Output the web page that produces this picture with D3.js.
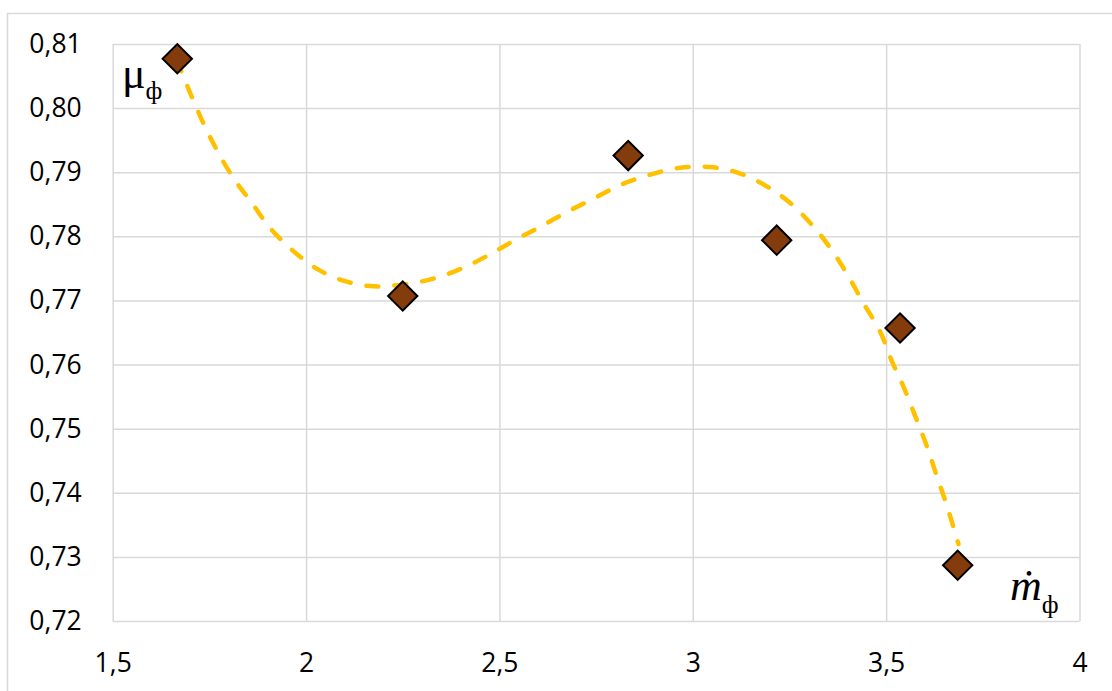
<!DOCTYPE html>
<html>
<head>
<meta charset="utf-8">
<script src="https://cdn.jsdelivr.net/npm/d3@7"></script>
<style>
  body { margin: 0; background: #fff; }
  .tick text { font-family: "Open Sans", sans-serif; font-size: 26.5px; fill: #000; }
  .grid line { stroke: #d9d9d9; stroke-width: 1.5; }
</style>
</head>
<body>
<div id="chart"></div>
<script>
// 数据点 (x, μ)
const pointX = [1.667, 2.25, 2.833, 3.217, 3.536, 3.685];
const pointY = [0.8077, 0.7707, 0.7926, 0.7794, 0.7657, 0.7287];

// 趋势线
const trendX = [1.666, 1.700, 1.734, 1.769, 1.812, 1.860, 1.907, 1.967, 2.032, 2.101, 2.174, 2.252,
  2.329, 2.407, 2.476, 2.540, 2.609, 2.678, 2.747, 2.816, 2.889, 2.967, 3.045, 3.118, 3.191,
  3.252, 3.308, 3.359, 3.402, 3.441, 3.484, 3.515, 3.546, 3.575, 3.605, 3.631, 3.657, 3.687];
const trendY = [0.8075, 0.8024, 0.7977, 0.7935, 0.7891, 0.7852, 0.7813, 0.7777, 0.7748, 0.7730, 0.7722, 0.7725,
  0.7734, 0.7751, 0.7772, 0.7794, 0.7816, 0.7839, 0.7860, 0.7881, 0.7896, 0.7907, 0.7908, 0.7899, 0.7878,
  0.7852, 0.7818, 0.7779, 0.7738, 0.7696, 0.7652, 0.7605, 0.7564, 0.7520, 0.7473, 0.7426, 0.7380, 0.7320];

// 刻度
const xTicks = [1.5, 2, 2.5, 3, 3.5, 4];
const yTicks = [0.72, 0.73, 0.74, 0.75, 0.76, 0.77, 0.78, 0.79, 0.80, 0.81];

const width = 1112, height = 691;
const plotLeft = 112.7, plotRight = 1079.5, plotTop = 44, plotBottom = 621;

const locale = d3.formatLocale({ decimal: ",", thousands: " ", grouping: [3], currency: ["", ""] });
const fmtX = locale.format(".1~f");
const fmtY = locale.format(".2f");

const svg = d3.select('#chart').append('svg').attr('width', width).attr('height', height);

// 外框
svg.append('rect').attr('x', 7.5).attr('y', 13.5).attr('width', 1120).attr('height', 700)
  .attr('fill', 'none').attr('stroke', '#d9d9d9').attr('stroke-width', 1.5);

const x = d3.scaleLinear().domain([1.5, 4]).range([plotLeft, plotRight]);
const y = d3.scaleLinear().domain([0.72, 0.81]).range([plotBottom, plotTop]);

// 网格
svg.append('g').attr('class', 'grid').attr('transform', `translate(0,${plotBottom})`)
  .call(d3.axisBottom(x).tickValues(xTicks).tickSize(-(plotBottom - plotTop)).tickFormat(''))
  .call(g => g.select('.domain').remove());
svg.append('g').attr('class', 'grid').attr('transform', `translate(${plotLeft},0)`)
  .call(d3.axisLeft(y).tickValues(yTicks).tickSize(-(plotRight - plotLeft)).tickFormat(''))
  .call(g => g.select('.domain').remove());

// 刻度标签
svg.append('g').attr('transform', `translate(0,${plotBottom})`)
  .call(d3.axisBottom(x).tickValues(xTicks).tickSize(0).tickPadding(32).tickFormat(fmtX))
  .call(g => g.select('.domain').remove());
svg.append('g').attr('transform', `translate(${plotLeft},0)`)
  .call(d3.axisLeft(y).tickValues(yTicks).tickSize(0).tickPadding(31).tickFormat(fmtY))
  .call(g => g.select('.domain').remove());

// 趋势线
const trend = trendX.map((v, i) => [v, trendY[i]]);
svg.append('path').datum(trend)
  .attr('fill', 'none').attr('stroke', '#ffc000').attr('stroke-width', 4.5)
  .attr('stroke-linecap', 'round').attr('stroke-dasharray', '12,16')
  .attr('d', d3.line().x(d => x(d[0])).y(d => y(d[1])).curve(d3.curveCatmullRom));

// 数据点（菱形）
const points = pointX.map((v, i) => [v, pointY[i]]);
svg.append('g').selectAll('path').data(points).join('path')
  .attr('transform', d => `translate(${x(d[0])},${y(d[1])}) rotate(45)`)
  .attr('d', d3.symbol().type(d3.symbolSquare).size(430))
  .attr('fill', '#843c0c').attr('stroke', '#000').attr('stroke-width', 2);

// 轴标题
const serif = '"Liberation Serif", "Times New Roman", serif';
const mu = svg.append('text').attr('x', 122).attr('y', 88)
  .style('font-family', serif).style('font-size', '44px');
mu.append('tspan').text('μ');
mu.append('tspan').attr('dy', 11).style('font-size', '26px').text('ф');

const md = svg.append('text').attr('x', 1010).attr('y', 600)
  .style('font-family', serif).style('font-size', '44px');
md.append('tspan').style('font-style', 'italic').text('ṁ');
md.append('tspan').attr('dy', 13).style('font-size', '26px').text('ф');
</script>
</body>
</html>
